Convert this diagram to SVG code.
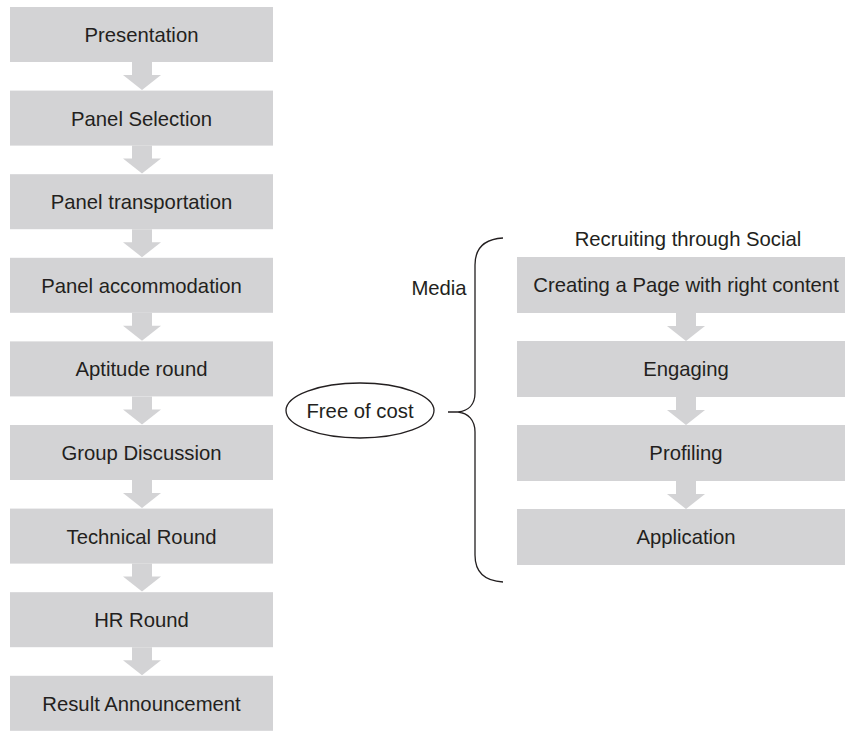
<svg xmlns="http://www.w3.org/2000/svg" width="845" height="731" viewBox="0 0 845 731">
  <style>
    .box { fill: #d3d3d5; }
    .arrow { fill: #d3d3d5; }
    .label { font-family: "Liberation Sans", Arial, sans-serif; font-size: 20.3px; fill: #231f20; text-anchor: middle; }
    .line { fill: none; stroke: #231f20; stroke-width: 1.3; }
  </style>
  <defs>
    <!-- block arrow pointing down, origin at top-centre -->
    <path id="down" d="M-10,0 L10,0 L10,13 L19,13 L0,28 L-19,13 L-10,13 Z"/>
  </defs>
  <rect width="845" height="731" fill="#ffffff"/>

  <!-- selection process -->
  <g id="presentation"><rect class="box" x="10" y="7" width="263" height="55"/><text class="label" x="141.5" y="42">Presentation</text></g>
  <g id="panel-selection"><rect class="box" x="10" y="90.6" width="263" height="55"/><text class="label" x="141.5" y="125.6">Panel Selection</text></g>
  <g id="panel-transportation"><rect class="box" x="10" y="174.2" width="263" height="55"/><text class="label" x="141.5" y="209.2">Panel transportation</text></g>
  <g id="panel-accommodation"><rect class="box" x="10" y="257.8" width="263" height="55"/><text class="label" x="141.5" y="292.8">Panel accommodation</text></g>
  <g id="aptitude-round"><rect class="box" x="10" y="341.4" width="263" height="55"/><text class="label" x="141.5" y="376.4">Aptitude round</text></g>
  <g id="group-discussion"><rect class="box" x="10" y="425" width="263" height="55"/><text class="label" x="141.5" y="460">Group Discussion</text></g>
  <g id="technical-round"><rect class="box" x="10" y="508.6" width="263" height="55"/><text class="label" x="141.5" y="543.6">Technical Round</text></g>
  <g id="hr-round"><rect class="box" x="10" y="592.2" width="263" height="55"/><text class="label" x="141.5" y="627.2">HR Round</text></g>
  <g id="result-announcement"><rect class="box" x="10" y="675.8" width="263" height="55"/><text class="label" x="141.5" y="710.8">Result Announcement</text></g>

  <!-- social media recruiting -->
  <g id="social-title"><text class="label" x="688" y="246">Recruiting through Social</text></g>
  <g id="media-label"><text class="label" x="439" y="295">Media</text></g>
  <g id="creating-page"><rect class="box" x="517" y="257" width="340" height="56"/><text class="label" x="686" y="292">Creating a Page with right content</text></g>
  <g id="engaging"><rect class="box" x="517" y="341" width="340" height="56"/><text class="label" x="686" y="376">Engaging</text></g>
  <g id="profiling"><rect class="box" x="517" y="425" width="340" height="56"/><text class="label" x="686" y="460">Profiling</text></g>
  <g id="application"><rect class="box" x="517" y="509" width="340" height="56"/><text class="label" x="686" y="544">Application</text></g>

  <g id="free-of-cost">
    <ellipse class="line" cx="360" cy="410.5" rx="74" ry="27.5"/>
    <text class="label" x="360" y="418">Free of cost</text>
  </g>

  <g id="connectors">
    <g class="arrow">
      <use href="#down" x="142" y="62"/>
      <use href="#down" x="142" y="145.6"/>
      <use href="#down" x="142" y="229.2"/>
      <use href="#down" x="142" y="312.8"/>
      <use href="#down" x="142" y="396.4"/>
      <use href="#down" x="142" y="480"/>
      <use href="#down" x="142" y="563.6"/>
      <use href="#down" x="142" y="647.2"/>
      <use href="#down" x="686" y="313"/>
      <use href="#down" x="686" y="397"/>
      <use href="#down" x="686" y="481"/>
    </g>
    <!-- curly brace -->
    <path class="line" d="M503,238 C485,239 475,248 475,265 L475,393 C475,405 468,411 458,412 L448,412 M458,412 C468,413 475,420 475,432 L475,555 C475,572 485,581 503,582"/>
  </g>
</svg>
